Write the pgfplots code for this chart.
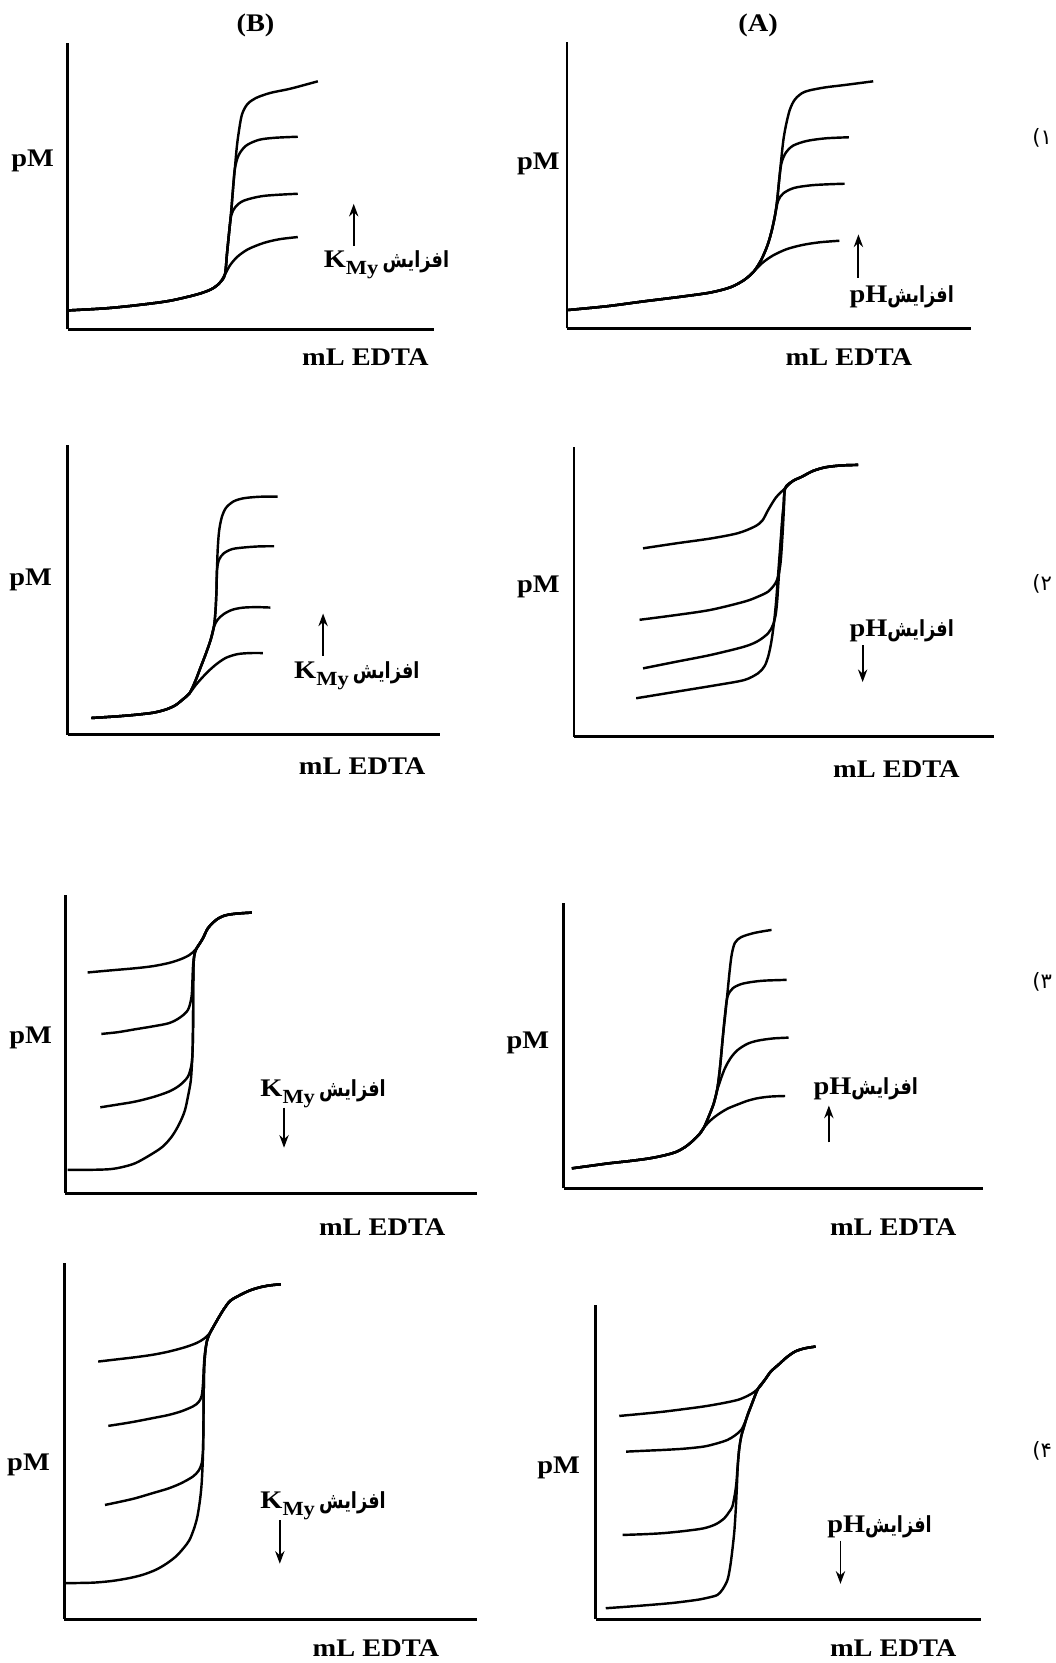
\documentclass[border=0pt]{standalone}
\usepackage{fontspec}
\setmainfont{Liberation Serif}[FakeStretch=1.12]
\newfontfamily\arabicfont[Script=Arabic,FakeStretch=0.8]{DejaVu Sans}
\newfontfamily\digitfont[Script=Arabic]{DejaVu Sans}
\usepackage{pgfplots}
\pgfplotsset{compat=1.18}
\usetikzlibrary{arrows.meta}
\TeXXeTstate=1
\newcommand\afz{{\arabicfont\bfseries\fontsize{10.5}{12}\selectfont\beginR افزایش\endR}}
\newcommand\kmy{\textbf{K}\raisebox{-0.6ex}{\bfseries\fontsize{9.5}{10}\selectfont My}}
\pgfplotsset{
 panel/.style={x=0.5pt,y=0.5pt,axis lines=left,axis line style={-,line width=1.35pt},xtick=\empty,ytick=\empty,anchor=south west,clip=false},
 crv/.style={black,line width=1.15pt,smooth,tension=0.5,no marks}
}
\tikzset{arr/.style={-{Stealth[length=6pt,width=4.4pt]},line width=0.9pt,black}}
\begin{document}
\begin{tikzpicture}[x=0.5pt,y=-0.5pt]
\path[use as bounding box] (0,0) rectangle (1000,1575);
\coordinate (pB1) at (64,312);
\coordinate (pA1) at (537,311);
\coordinate (pB2) at (64,696);
\coordinate (pA2) at (543.6,697.6);
\coordinate (pB3) at (62,1130);
\coordinate (pA3) at (534,1125.4);
\coordinate (pB4) at (61,1533.5);
\coordinate (pA4) at (564,1533.5);
\tikzset{every node/.style={font=\fontsize{12}{14}\selectfont\bfseries}}
% ---------------- B1
\begin{axis}[panel, at={(pB1)}, xmin=64,xmax=411,ymin=-312,ymax=-41]
\addplot[crv] coordinates {(64,-294) (100,-292) (130,-289) (160,-285) (186,-279) (200,-274) (208,-268) (213,-260) (218,-251) (225,-243) (235,-236) (250,-230) (265,-226.5) (282,-224.5)};
\addplot[crv] coordinates {(64,-294) (100,-292) (130,-289) (160,-285) (186,-279) (200,-274) (208,-268) (213,-260) (215,-240) (217,-220) (219,-204) (223,-196) (231,-190) (250,-185.5) (282,-183.5)};
\addplot[crv] coordinates {(64,-294) (100,-292) (130,-289) (160,-285) (186,-279) (200,-274) (208,-268) (213,-260) (215,-240) (217,-220) (219,-200) (220.6,-180) (222.4,-160) (226,-147) (233,-138) (245,-132.5) (260,-130.5) (282,-129.5)};
\addplot[crv] coordinates {(64,-294) (100,-292) (130,-289) (160,-285) (186,-279) (200,-274) (208,-268) (213,-260) (215,-240) (217,-220) (219,-200) (220.6,-180) (222.4,-160) (224.2,-140) (226,-126) (229,-109) (234,-99) (242,-93) (256,-88) (275,-84) (301,-77)};
\draw[arr] (axis cs:335,-233) -- (axis cs:335,-193);
\end{axis}
% ---------------- A1
\begin{axis}[panel, at={(pA1)}, xmin=537,xmax=920,ymin=-311,ymax=-39.5]
\addplot[crv] coordinates {(538,-293.6) (575,-290) (609,-285.5) (645,-281) (673,-277) (692,-272) (705,-265) (714,-257) (722,-249) (732,-242) (745,-236) (760,-232) (776,-229.5) (795,-228)};
\addplot[crv] coordinates {(538,-293.6) (575,-290) (609,-285.5) (645,-281) (673,-277) (692,-272) (705,-265) (714,-257) (721,-246) (727,-232) (731,-218) (734,-204) (737,-190) (742,-183) (752,-178) (768,-175.5) (785,-174.5) (800,-174)};
\addplot[crv] coordinates {(538,-293.6) (575,-290) (609,-285.5) (645,-281) (673,-277) (692,-272) (705,-265) (714,-257) (721,-246) (727,-232) (731,-218) (734,-204) (736,-190) (738,-170) (740,-155) (744,-145) (751,-138) (764,-133.5) (782,-131) (804,-130)};
\addplot[crv] coordinates {(538,-293.6) (575,-290) (609,-285.5) (645,-281) (673,-277) (692,-272) (705,-265) (714,-257) (721,-246) (727,-232) (731,-218) (734,-204) (736,-190) (738,-170) (740,-150) (742,-132) (744.5,-118) (748,-104) (753,-94) (762,-87) (780,-83) (800,-80.5) (827,-77)};
\draw[arr] (axis cs:813,-263) -- (axis cs:813,-222);
\end{axis}
% ---------------- B2
\begin{axis}[panel, at={(pB2)}, xmin=64,xmax=417,ymin=-696,ymax=-421]
\addplot[crv] coordinates {(86.5,-680) (110,-678.5) (128,-677) (145,-675) (157,-672) (166,-668) (173,-662.5) (179.5,-656.6) (186,-648) (196,-637) (205,-629) (214,-623) (225,-619.5) (237,-618.5) (249,-618.5)};
\addplot[crv] coordinates {(86.5,-680) (110,-678.5) (128,-677) (145,-675) (157,-672) (166,-668) (173,-662.5) (179.5,-656.6) (185,-645) (190,-632) (195,-619) (199.5,-606) (202.5,-594) (206,-587) (212,-581.5) (220,-577.5) (230,-575.5) (243,-575) (256,-575.4)};
\addplot[crv] coordinates {(86.5,-680) (110,-678.5) (128,-677) (145,-675) (157,-672) (166,-668) (173,-662.5) (179.5,-656.6) (185,-645) (190,-632) (195,-619) (199.5,-606) (202.5,-594) (204,-580) (205,-560) (205.5,-540) (207.5,-530) (212,-524) (220,-520) (231,-518.5) (245,-517.5) (259.6,-517.3)};
\addplot[crv] coordinates {(86.5,-680) (110,-678.5) (128,-677) (145,-675) (157,-672) (166,-668) (173,-662.5) (179.5,-656.6) (185,-645) (190,-632) (195,-619) (199.5,-606) (202.5,-594) (204,-580) (205,-560) (205.5,-540) (206.2,-520) (207.5,-503) (210,-490) (214,-481) (221,-475) (230,-472) (245,-470.5) (263,-470.3)};
\draw[arr] (axis cs:306,-621) -- (axis cs:306,-581);
\end{axis}
% ---------------- A2
\begin{axis}[panel, at={(pA2)}, xmin=543.6,xmax=941,ymin=-697.6,ymax=-423]
\addplot[crv] coordinates {(609,-519.3) (641,-514.5) (673,-510) (698.7,-505) (714.7,-498.7) (722,-493) (727.5,-483) (735,-471) (743.6,-462.4) (751,-455.5) (759.6,-451.4) (770,-446) (782,-442.5) (797,-440.8) (812.8,-440.3)};
\addplot[crv] coordinates {(605.7,-587) (641,-582.4) (673,-577.6) (705,-569.8) (718,-565) (727.5,-560.3) (734,-553) (737,-546) (739,-535) (740,-524) (741.5,-500) (742.5,-480) (743.6,-462.4) (751,-455.5) (759.6,-451.4) (770,-446) (782,-442.5) (797,-440.8) (812.8,-440.3)};
\addplot[crv] coordinates {(609,-633) (641,-626.6) (673,-620.3) (705,-612.4) (718,-607) (727.5,-599.7) (732,-592) (734.5,-583) (736,-570) (737,-555) (738,-540) (739,-524) (740.5,-500) (742,-480) (743.6,-462.4) (751,-455.5) (759.6,-451.4) (770,-446) (782,-442.5) (797,-440.8) (812.8,-440.3)};
\addplot[crv] coordinates {(602.5,-661.3) (641,-655) (679.5,-648.7) (705,-644) (718,-637.6) (724,-631) (727.5,-622) (730.5,-608) (733,-590) (735,-570) (736.5,-550) (738,-530) (739.5,-510) (741,-490) (742.5,-475) (743.6,-462.4) (751,-455.5) (759.6,-451.4) (770,-446) (782,-442.5) (797,-440.8) (812.8,-440.3)};
\draw[arr] (axis cs:817,-611) -- (axis cs:817,-646);
\end{axis}
% ---------------- B3
\begin{axis}[panel, at={(pB3)}, xmin=62,xmax=452,ymin=-1130,ymax=-847.6]
\addplot[crv] coordinates {(83,-921) (105,-919) (128,-917) (145,-915) (160,-912) (171,-908.5) (179.5,-904.4) (186,-898.5) (192,-889) (197,-879) (205,-871) (213,-867) (221,-865.6) (230,-864.8) (238.5,-864.3)};
\addplot[crv] coordinates {(96,-979.2) (112,-977.5) (128,-974.8) (145,-972) (160,-969) (170,-964) (178,-956.5) (181.4,-944) (182.2,-930) (182.8,-915) (184,-905) (186,-898.5) (192,-889) (197,-879) (205,-871) (213,-867) (221,-865.6) (230,-864.8) (238.5,-864.3)};
\addplot[crv] coordinates {(95,-1048.7) (112,-1046) (128,-1043.3) (145,-1039) (160,-1033.8) (170,-1028) (178,-1019.6) (181.4,-1008) (182.4,-995) (182.8,-975) (183,-955) (183,-935) (183.3,-915) (184,-905) (186,-898.5) (192,-889) (197,-879) (205,-871) (213,-867) (221,-865.6) (230,-864.8) (238.5,-864.3)};
\addplot[crv] coordinates {(64,-1108) (80,-1108) (102.6,-1107.4) (115,-1105.5) (128,-1101.7) (142,-1094) (154,-1086) (163,-1076) (170,-1064) (175,-1052) (178,-1038.6) (180.5,-1025) (181.5,-1013) (182.4,-995) (182.8,-975) (183,-955) (183,-935) (183.3,-915) (184,-905) (186,-898.5) (192,-889) (197,-879) (205,-871) (213,-867) (221,-865.6) (230,-864.8) (238.5,-864.3)};
\draw[arr] (axis cs:269,-1049) -- (axis cs:269,-1087);
\end{axis}
% ---------------- A3
\begin{axis}[panel, at={(pA3)}, xmin=534,xmax=930.7,ymin=-1125.4,ymax=-855.5]
\addplot[crv] coordinates {(541.6,-1106.5) (560,-1104) (577,-1101.7) (597,-1099.5) (615.4,-1097) (630,-1094) (641,-1090.7) (650,-1085.5) (657,-1079.6) (662.5,-1074) (666.6,-1068) (673,-1061) (680,-1055.5) (689,-1050) (698.7,-1046) (708,-1042.5) (718,-1040) (730,-1038.5) (743.6,-1038)};
\addplot[crv] coordinates {(541.6,-1106.5) (560,-1104) (577,-1101.7) (597,-1099.5) (615.4,-1097) (630,-1094) (641,-1090.7) (650,-1085.5) (657,-1079.6) (662.5,-1074) (666.6,-1068) (671,-1058) (676,-1045) (680,-1030) (686,-1013) (692,-1002) (698.7,-994.4) (708,-988.5) (718,-985.5) (732,-983.5) (746.8,-982.7)};
\addplot[crv] coordinates {(541.6,-1106.5) (560,-1104) (577,-1101.7) (597,-1099.5) (615.4,-1097) (630,-1094) (641,-1090.7) (650,-1085.5) (657,-1079.6) (662.5,-1074) (666.6,-1068) (671,-1058) (676,-1045) (679.5,-1030) (682,-1010) (684.6,-982) (686.5,-962) (689,-944) (694,-936) (702,-932) (712,-930) (724.3,-928.7) (745,-928)};
\addplot[crv] coordinates {(541.6,-1106.5) (560,-1104) (577,-1101.7) (597,-1099.5) (615.4,-1097) (630,-1094) (641,-1090.7) (650,-1085.5) (657,-1079.6) (662.5,-1074) (666.6,-1068) (671,-1058) (676,-1045) (679.5,-1030) (682,-1010) (684.6,-982) (687,-960) (689,-940) (691,-920) (693,-904) (696,-893) (702,-887.5) (714.7,-883.5) (730.7,-880.7)};
\draw[arr] (axis cs:785,-1082) -- (axis cs:785,-1047);
\end{axis}
% ---------------- B4
\begin{axis}[panel, at={(pB4)}, xmin=61,xmax=452,ymin=-1533.5,ymax=-1196.4]
\addplot[crv] coordinates {(93,-1289.5) (110,-1287.5) (128,-1285.4) (145,-1283) (160,-1280) (175,-1276) (186,-1272) (193,-1268) (198.7,-1262.7) (203,-1255) (207,-1248) (211.5,-1240.6) (218,-1232) (227.6,-1226.4) (237,-1222) (246.8,-1219) (256,-1217.3) (266,-1216.3)};
\addplot[crv] coordinates {(102.6,-1350.4) (115,-1348.5) (128,-1346.3) (145,-1343) (160,-1340) (172,-1336.5) (182.7,-1332) (188,-1328) (191,-1322) (192.3,-1310) (193,-1295) (194,-1282) (196,-1270) (198.7,-1262.7) (203,-1255) (207,-1248) (211.5,-1240.6) (218,-1232) (227.6,-1226.4) (237,-1222) (246.8,-1219) (256,-1217.3) (266,-1216.3)};
\addplot[crv] coordinates {(99.4,-1425.3) (115,-1422) (128,-1419) (145,-1414) (160,-1409.5) (172,-1404.5) (182.7,-1398.4) (188,-1393) (191,-1386) (192.3,-1373) (192.6,-1355) (192.8,-1335) (193,-1315) (193.4,-1295) (194.5,-1280) (196,-1270) (198.7,-1262.7) (203,-1255) (207,-1248) (211.5,-1240.6) (218,-1232) (227.6,-1226.4) (237,-1222) (246.8,-1219) (256,-1217.3) (266,-1216.3)};
\addplot[crv] coordinates {(61,-1499.4) (75,-1499.2) (89.7,-1498.8) (106,-1497.3) (121.8,-1494.7) (135,-1491.5) (147.4,-1486.8) (157.5,-1481) (166.7,-1474) (174,-1466) (179.5,-1458.4) (184,-1447) (187,-1436) (189.5,-1420) (191,-1404.7) (192,-1385) (192.3,-1373) (192.6,-1355) (192.8,-1335) (193,-1315) (193.4,-1295) (194.5,-1280) (196,-1270) (198.7,-1262.7) (203,-1255) (207,-1248) (211.5,-1240.6) (218,-1232) (227.6,-1226.4) (237,-1222) (246.8,-1219) (256,-1217.3) (266,-1216.3)};
\draw[arr] (axis cs:265,-1440) -- (axis cs:265,-1481);
\end{axis}
% ---------------- A4
\begin{axis}[panel, at={(pA4)}, xmin=564,xmax=929.5,ymin=-1533.5,ymax=-1235.8]
\addplot[crv] coordinates {(586.5,-1341) (608,-1339) (628,-1337) (648,-1334.5) (666.6,-1332) (684,-1329) (698.7,-1325.8) (708,-1322) (714.7,-1318) (720,-1313) (724.3,-1306.9) (730,-1299) (737,-1292.7) (745,-1285.5) (753,-1280) (762,-1277) (772.4,-1275.3)};
\addplot[crv] coordinates {(593,-1374.8) (610,-1374) (628,-1373.2) (648,-1372) (666.6,-1370) (679,-1367) (689,-1363.7) (696,-1359.5) (702,-1354.2) (706,-1346) (709,-1338) (712,-1330) (715,-1322) (718,-1315) (724.3,-1306.9) (730,-1299) (737,-1292.7) (745,-1285.5) (753,-1280) (762,-1277) (772.4,-1275.3)};
\addplot[crv] coordinates {(589.7,-1453.7) (610,-1453) (628,-1452) (648,-1450) (666.6,-1447.4) (678,-1443.5) (686,-1437.9) (690.5,-1432) (693.6,-1426.8) (696,-1415) (697.4,-1404.7) (698.5,-1390) (700,-1373) (702,-1360.5) (705,-1350) (708,-1340) (711.5,-1331) (715,-1322) (718,-1315) (724.3,-1306.9) (730,-1299) (737,-1292.7) (745,-1285.5) (753,-1280) (762,-1277) (772.4,-1275.3)};
\addplot[crv] coordinates {(573.7,-1523.1) (595,-1521.6) (615.4,-1520) (638,-1518) (660,-1515.2) (671,-1513) (679.5,-1510.5) (684.5,-1505) (689,-1496.3) (691.5,-1484) (693.6,-1468) (695.5,-1450) (696.8,-1430) (697.8,-1410) (698.7,-1389) (700,-1373) (702,-1360.5) (705,-1350) (708,-1340) (711.5,-1331) (715,-1322) (718,-1315) (724.3,-1306.9) (730,-1299) (737,-1292.7) (745,-1285.5) (753,-1280) (762,-1277) (772.4,-1275.3)};
\draw[arr] (axis cs:796,-1459) -- (axis cs:796,-1500);
\end{axis}
% ---------------- texts
\node at (242,24) {(B)};
\node at (718,24) {(A)};
\foreach \x/\y in {31/152,510/155,29/549,510/556,29/983,500/988,27/1387,529/1390} \node at (\x,\y) {pM};
\foreach \x/\y in {346/338,804/338,343/726,849/728,362/1162,846/1162,356/1561,846/1561} \node at (\x,\y) {mL EDTA};
\foreach \x/\y in {366/251,338/640,306/1036,306/1426} \node at (\x,\y) {\kmy\,\afz};
\foreach \x/\y in {854/281,854/597,820/1031,833/1446} \node at (\x,\y) {pH\afz};
\node[font=\digitfont\fontsize{10}{12}\selectfont] at (987,131) {۱)};
\node[font=\digitfont\fontsize{10}{12}\selectfont] at (987,553) {۲)};
\node[font=\digitfont\fontsize{10}{12}\selectfont] at (987,930) {۳)};
\node[font=\digitfont\fontsize{10}{12}\selectfont] at (987,1374) {۴)};
\end{tikzpicture}
\end{document}
